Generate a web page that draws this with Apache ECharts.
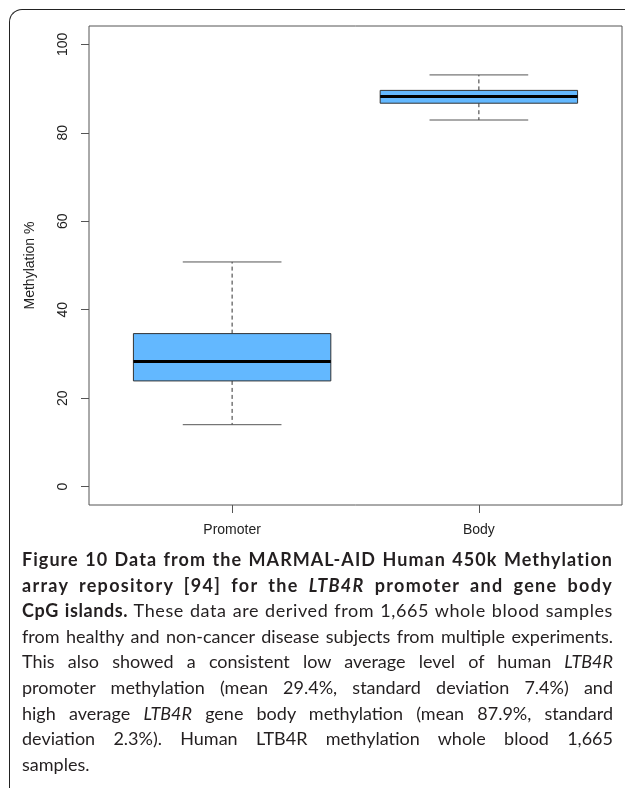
<!DOCTYPE html>
<html>
<head>
<meta charset="utf-8">
<script src="https://cdn.jsdelivr.net/npm/echarts@6/dist/echarts.min.js"></script>
<style>
  html, body { margin: 0; padding: 0; background: #fff; }
  #frame { position: absolute; left: 9px; top: 9px; width: 700px; height: 778px;
           border-left: 1.5px solid #222; border-top: 1.5px solid #222; border-top-left-radius: 13px; }
  #chart { position: absolute; left: 0; top: 0; width: 625px; height: 794px; }
  #caption { position: absolute; left: 22px; top: 547px; width: 591px;
             font-family: Lato, "Open Sans", sans-serif; font-size: 18px; line-height: 25.6px; color: #231f20; }
  #caption div { text-align: justify; text-align-last: justify; white-space: normal; }
  #caption div.last { text-align-last: left; }
  b { font-weight: 700; }
  #measure { position: absolute; left: -2000px; top: 0; white-space: nowrap;
             font-family: Lato, "Open Sans", sans-serif; font-size: 18px; }
</style>
</head>
<body>
<div id="frame"></div>
<div id="chart"></div>
<div id="caption">
  <div class="fill"><b>Figure 10 Data from the MARMAL-AID Human 450k Methylation</b></div>
  <div class="fill"><b>array repository [94] for the <i>LTB4R</i> promoter and gene body</b></div>
  <div class="fill"><b>CpG islands.</b> These data are derived from 1,665 whole blood samples</div>
  <div>from healthy and non-cancer disease subjects from multiple experiments.</div>
  <div>This also showed a consistent low average level of human <i>LTB4R</i></div>
  <div>promoter methylation (mean 29.4%, standard deviation 7.4%) and</div>
  <div>high average <i>LTB4R</i> gene body methylation (mean 87.9%, standard</div>
  <div>deviation 2.3%). Human LTB4R methylation whole blood 1,665</div>
  <div class="last">samples.</div>
</div>
<span id="measure"></span>
<script>
// Data
var categories = ['Promoter', 'Body'];
var positions = [1, 2];
var whiskerLow = [14.0, 82.9];
var q1 = [23.9, 86.7];
var median = [28.3, 88.2];
var q3 = [34.6, 89.6];
var whiskerHigh = [50.8, 93.1];
var yTicks = [0, 20, 40, 60, 80, 100];
var yLabel = 'Methylation %';

// caption line fitting (typography only)
(function () {
  var box = document.getElementById('caption');
  var meas = document.getElementById('measure');
  var target = 591;
  var lines = box.querySelectorAll('div');
  for (var i = 0; i < lines.length; i++) {
    var d = lines[i];
    if (d.className === 'last') continue;
    meas.innerHTML = d.innerHTML;
    var w = meas.getBoundingClientRect().width;
    var n = d.textContent.length;
    var ls = 0;
    if (w > target - 1) ls = (target - 1 - w) / n;
    else if (d.className === 'fill') ls = Math.min(1.3, (target - 8 - w) / n);
    d.style.letterSpacing = ls.toFixed(3) + 'px';
  }
  meas.innerHTML = '';
})();

var data = categories.map(function (c, i) {
  return [positions[i], whiskerLow[i], q1[i], median[i], q3[i], whiskerHigh[i]];
});

var chart = echarts.init(document.getElementById('chart'), null, { renderer: 'canvas' });

var axisFont = 'Liberation Sans, Arial, sans-serif';

chart.setOption({
  animation: false,
  backgroundColor: 'transparent',
  grid: { left: 89, top: 26, width: 533, height: 479, show: true, borderColor: '#555', borderWidth: 1, backgroundColor: 'transparent' },
  xAxis: {
    type: 'value', min: 0.42, max: 2.58,
    splitLine: { show: false },
    axisLine: { show: false, onZero: false },
    axisTick: { show: true, length: 8, inside: false, customValues: positions, lineStyle: { color: '#555', width: 1 } },
    axisLabel: {
      show: true, customValues: positions, margin: 18,
      fontFamily: axisFont, fontSize: 14, color: '#222',
      formatter: function (v) { var i = positions.indexOf(v); return i >= 0 ? categories[i] : ''; }
    }
  },
  yAxis: {
    type: 'value', min: -4.16, max: 104.16,
    name: yLabel, nameLocation: 'middle', nameGap: 52, nameRotate: 90,
    nameTextStyle: { fontFamily: axisFont, fontSize: 14, color: '#222' },
    splitLine: { show: false },
    axisLine: { show: false, onZero: false },
    axisTick: { show: true, length: 8, customValues: yTicks, lineStyle: { color: '#555', width: 1 } },
    axisLabel: { show: true, customValues: yTicks, rotate: 90, margin: 19, fontFamily: axisFont, fontSize: 14, color: '#222' }
  },
  series: [{
    type: 'custom',
    data: data,
    encode: { x: 0, y: [1, 2, 3, 4, 5] },
    renderItem: function (params, api) {
      var x = api.value(0);
      var halfBox = api.size([0.8, 0])[0] / 2;
      var halfCap = halfBox / 2;
      var pLow = api.coord([x, api.value(1)]);
      var pQ1 = api.coord([x, api.value(2)]);
      var pMed = api.coord([x, api.value(3)]);
      var pQ3 = api.coord([x, api.value(4)]);
      var pHigh = api.coord([x, api.value(5)]);
      var cx = pMed[0];
      var dash = { stroke: '#333', lineWidth: 1, lineDash: [4, 3] };
      return {
        type: 'group',
        children: [
          { type: 'line', shape: { x1: cx, y1: pQ3[1], x2: cx, y2: pHigh[1] }, style: dash },
          { type: 'line', shape: { x1: cx, y1: pQ1[1], x2: cx, y2: pLow[1] }, style: dash },
          { type: 'line', shape: { x1: cx - halfCap, y1: pHigh[1], x2: cx + halfCap, y2: pHigh[1] }, style: { stroke: '#555', lineWidth: 1 } },
          { type: 'line', shape: { x1: cx - halfCap, y1: pLow[1], x2: cx + halfCap, y2: pLow[1] }, style: { stroke: '#555', lineWidth: 1 } },
          { type: 'rect', shape: { x: cx - halfBox, y: pQ3[1], width: halfBox * 2, height: pQ1[1] - pQ3[1] }, style: { fill: '#63B8FF', stroke: '#333', lineWidth: 1 } },
          { type: 'line', shape: { x1: cx - halfBox, y1: pMed[1], x2: cx + halfBox, y2: pMed[1] }, style: { stroke: '#000', lineWidth: 3 } }
        ]
      };
    }
  }]
});
</script>
</body>
</html>
